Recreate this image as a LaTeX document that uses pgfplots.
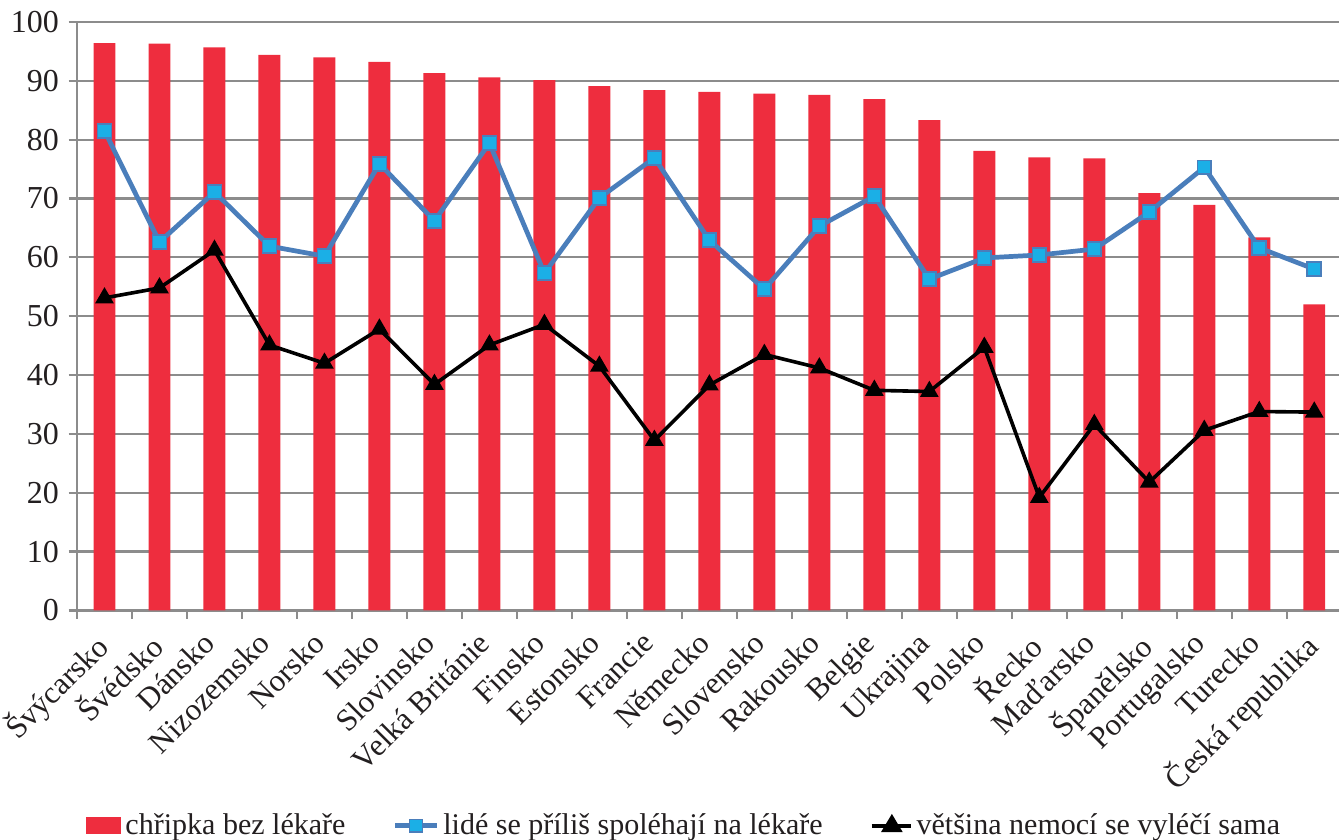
\documentclass[border=0pt]{standalone}
\usepackage{pgfplots}
\pgfplotsset{compat=1.18}
\usepackage{fontspec}
\setmainfont{Liberation Serif}
\definecolor{barred}{RGB}{238,45,62}
\definecolor{lineblue}{RGB}{74,126,187}
\definecolor{markblue}{RGB}{27,175,230}
\definecolor{gridgray}{RGB}{140,140,140}
\definecolor{txt}{RGB}{35,31,32}
\begin{document}
\begin{tikzpicture}
\begin{axis}[
    name=ax,
    at={(0,0)}, anchor=south west,
    scale only axis,
    width=454pt, height=211.7pt,
    xmin=-0.5, xmax=22.45,
    ymin=0, ymax=100,
    ytick={0,10,...,100},
    xtick={0,...,22},
    major x tick style={draw=none},
    minor xtick={-0.5,0.5,...,22.5},
    minor x tick style={gridgray, thick},
    minor tick length=3pt,
    major tick length=3pt,
    tick align=outside,
    ytick style={gridgray, thick},
    axis lines*=left,
    axis line style={gridgray, thick},
    ymajorgrids,
    grid style={gridgray, thick},
    font=\fontsize{11}{13}\selectfont,
    tick label style={text=txt},
    yticklabel style={font=\fontsize{11.5}{13}\selectfont},
    /pgf/number format/assume math mode=true,
    xticklabels={Švýcarsko, Švédsko, Dánsko, Nizozemsko, Norsko, Irsko, Slovinsko, Velká Británie, Finsko, Estonsko, Francie, Německo, Slovensko, Rakousko, Belgie, Ukrajina, Polsko, Řecko, Maďarsko, Španělsko, Portugalsko, Turecko, Česká republika},
    xticklabel style={xshift=-4.8pt, yshift=-2.4pt, rotate=45, anchor=north east, inner sep=1pt, font=\fontsize{11.2}{13}\selectfont},
    legend columns=3,
    legend style={draw=none, at={(0.482,-0.366)}, anchor=center, font=\fontsize{10.8}{13}\selectfont, text=txt,
        nodes={inner xsep=1.5pt},
        /tikz/every even column/.append style={column sep=15.5pt}},
    legend cell align=left,
]
\addplot[ybar, bar width=7.9pt, fill=barred, draw=none,
    legend image code/.code={\fill[barred] (0pt,-3pt) rectangle (12.6pt,3.2pt);}]
coordinates {
(0,96.4) (1,96.3) (2,95.7) (3,94.4) (4,94.0) (5,93.2) (6,91.3) (7,90.6) (8,90.1) (9,89.1) (10,88.4) (11,88.1) (12,87.8) (13,87.6) (14,86.9) (15,83.3) (16,78.1) (17,77.0) (18,76.8) (19,70.9) (20,68.9) (21,63.4) (22,52.0)
};
\addlegendentry{chřipka bez lékaře}
\addplot[lineblue, line width=1.7pt, mark=square*, mark size=2.5pt,
    mark options={fill=markblue, draw=lineblue, line width=0.6pt},
    legend image code/.code={\draw[lineblue, line width=1.7pt] (0pt,0pt) -- (15pt,0pt); \fill[markblue, draw=lineblue, line width=0.6pt] (5.2pt,-2.3pt) rectangle (9.8pt,2.3pt);}]
coordinates {
(0,81.5) (1,62.6) (2,71.1) (3,61.9) (4,60.2) (5,75.9) (6,66.2) (7,79.4) (8,57.3) (9,70.1) (10,76.9) (11,62.9) (12,54.6) (13,65.3) (14,70.4) (15,56.3) (16,59.9) (17,60.4) (18,61.4) (19,67.7) (20,75.3) (21,61.6) (22,58.0)
};
\addlegendentry{lidé se příliš spoléhají na lékaře}
\addplot[black, line width=1.3pt, mark=triangle*, mark size=2.6pt,
    mark options={fill=black},
    legend image code/.code={\draw[black, line width=1.3pt] (0pt,0pt) -- (14pt,0pt); \fill[black] (4.5pt,-1.6pt) -- (10pt,-1.6pt) -- (7.25pt,3pt) -- cycle;}]
coordinates {
(0,53.1) (1,54.8) (2,61.2) (3,45.1) (4,42.0) (5,47.8) (6,38.4) (7,45.1) (8,48.6) (9,41.5) (10,28.9) (11,38.3) (12,43.5) (13,41.2) (14,37.4) (15,37.2) (16,44.7) (17,19.2) (18,31.6) (19,21.8) (20,30.6) (21,33.8) (22,33.7)
};
\addlegendentry{většina nemocí se vyléčí sama}
\end{axis}
\pgfresetboundingbox
\path[use as bounding box] (-27.7pt,-82.4pt) rectangle (454pt,219.6pt);
\end{tikzpicture}
\end{document}
